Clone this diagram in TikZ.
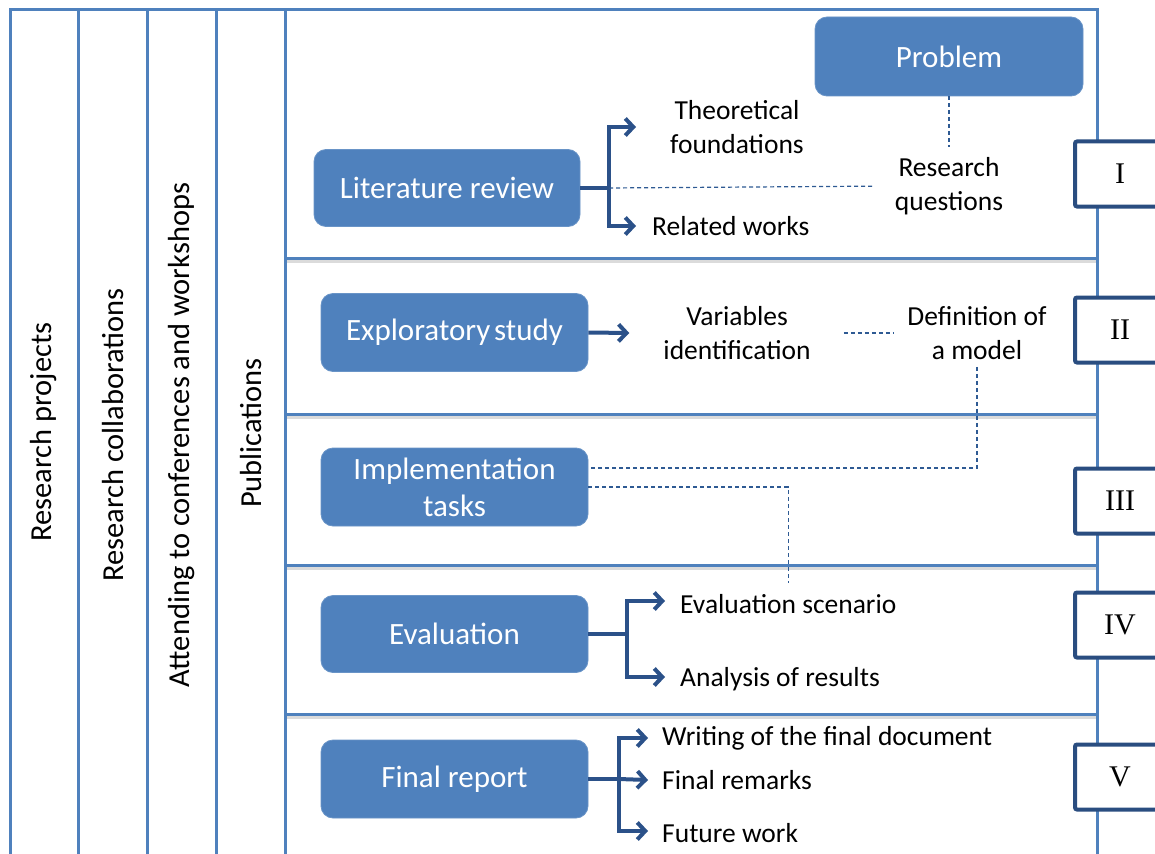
\documentclass[tikz,border=0pt]{standalone}
\usepackage{fontspec}
\setmainfont{Carlito}
\newfontfamily\romanfont{Liberation Serif}
\usetikzlibrary{arrows.meta,calc}
\definecolor{framec}{HTML}{4F81BD}
\definecolor{boxc}{HTML}{4F81BD}
\definecolor{arrc}{HTML}{2B5189}
\definecolor{romc}{HTML}{2A4D80}
\definecolor{dashc}{HTML}{2E5A93}
\begin{document}
\begin{tikzpicture}[x=1pt,y=-1pt,
  frame/.style={draw=framec,line width=3pt},
  sep/.style={draw=framec,line width=3pt},
  sepshadow/.style={draw=black!14,line width=3.5pt},
  bluebox/.style={fill=boxc,draw=boxc!85!white,line width=0.8pt,rounded corners=12pt,text=white,
    font=\fontsize{31}{37}\selectfont,align=center,inner sep=0pt},
  lbl/.style={inner sep=0pt,font=\fontsize{27.5}{34}\selectfont,align=center,text=black},
  vlbl/.style={inner sep=0pt,font=\fontsize{30.5}{36}\selectfont,rotate=90,text=black},
  romanbox/.style={draw=romc,line width=4pt,fill=white,rounded corners=2pt,minimum width=90pt,
    minimum height=65pt,inner sep=0pt,font=\romanfont\fontsize{30}{36}\selectfont},
  conn/.style={draw=arrc,line width=4pt},
  arr/.style={draw=arrc,line width=4pt,-{Straight Barb[length=8pt,width=17pt]}},
  dashline/.style={draw=dashc,line width=1.2pt,dash pattern=on 4pt off 3pt}
]
\useasboundingbox (0,0) rectangle (1155,853);
\clip (0,0) rectangle (1155,853);
\fill[white] (0,0) rectangle (1155,853);

% separators with shadow
\foreach \yy in {258,414,565,714}{
  \draw[sepshadow] (285,\yy+3.5) -- (1097,\yy+3.5);
  \draw[sep] (285,\yy) -- (1097,\yy);
}
% frame
\draw[frame] (10,860) -- (10,10) -- (1097,10) -- (1097,860);
\foreach \xx in {78,147,216,285}{
  \draw[frame] (\xx,10) -- (\xx,860);
}

% vertical labels
\node[vlbl] (rp) at (44,432) {Research projects};
\node[vlbl] (rc) at (113,435) {Research collaborations};
\node[vlbl] (ac) at (182,435) {Attending to conferences and workshops};
\node[vlbl] (pu) at (251,433) {Publications};

% roman boxes
\node[romanbox] (r1) at (1120,174) {I};
\node[romanbox] (r2) at (1120,330) {II};
\node[romanbox] (r3) at (1120,501) {III};
\node[romanbox] (r4) at (1120,625) {IV};
\node[romanbox] (r5) at (1120,777) {V};

% blue boxes
\node[bluebox,minimum width=268pt,minimum height=79pt] (problem) at (949,56.5) {Problem};
\node[bluebox,minimum width=266pt,minimum height=77pt] (lit) at (447,188) {Literature review};
\node[bluebox,minimum width=267pt,minimum height=78pt] (expl) at (454.5,332.5) {Exploratory\hspace{0.12em}study};
\node[bluebox,minimum width=267pt,minimum height=78pt] (impl) at (454.5,487) {Implementation\\tasks};
\node[bluebox,minimum width=267pt,minimum height=77pt] (eval) at (454.5,634) {Evaluation};
\node[bluebox,minimum width=267pt,minimum height=78pt] (final) at (454.5,779) {Final report};

% labels
\node[lbl] (theo) at (737,127) {Theoretical\\foundations};
\node[lbl,anchor=west] (rel) at (652,226) {Related works};
\node[lbl] (rq) at (949,186) {Research\\questions};
\node[lbl] (vars) at (737,333) {Variables\\identification};
\node[lbl] (defm) at (977,333) {Definition of\\a model};
\node[lbl,anchor=west] (evsc) at (680,604) {Evaluation scenario};
\node[lbl,anchor=west] (anal) at (680,679) {Analysis of results};
\node[lbl,anchor=west] (wri) at (662,738) {Writing of the final document};
\node[lbl,anchor=west] (rem) at (662,780) {Final remarks};
\node[lbl,anchor=west] (fut) at (662,833) {Future work};

% junction coordinates
\coordinate (litj) at (609,188);
\coordinate (evj) at (627,634);
\coordinate (finj) at (619,779);

% Literature review arrows
\draw[conn] (lit.east) -- (litj);
\draw[arr] (litj) |- ([xshift=-34pt]theo.west);
\draw[arr] (litj) |- ([xshift=-16pt]rel.west);
% Exploratory
\draw[arr] (expl.east) -- ([xshift=-34pt]vars.west);
% Evaluation
\draw[conn] (eval.east) -- (evj);
\draw[arr] (evj) |- ([xshift=-15pt,yshift=3pt]evsc.west);
\draw[arr] (evj) |- ([xshift=-15pt,yshift=2pt]anal.west);
% Final report
\draw[conn] (final.east) -- (finj);
\draw[arr] (finj) |- ([xshift=-14pt]wri.west);
\draw[arr] (finj) -- ([xshift=-14pt]rem.west);
\draw[arr] (finj) |- ([xshift=-14pt,yshift=2pt]fut.west);

% dashed connectors
\draw[dashline,shorten >=10pt] (problem.south) -- (rq.north);
\draw[dashline,shorten >=20pt] (litj) -- (rq.west);
\draw[dashline,shorten <=33pt,shorten >=13pt] (vars.east) -- (defm.west);
\draw[dashline,shorten <=7pt] (defm.south) |- ([yshift=19pt]impl.east);
\draw[dashline,shorten >=11pt] (impl.east) -| (evsc.north);
\end{tikzpicture}
\end{document}
